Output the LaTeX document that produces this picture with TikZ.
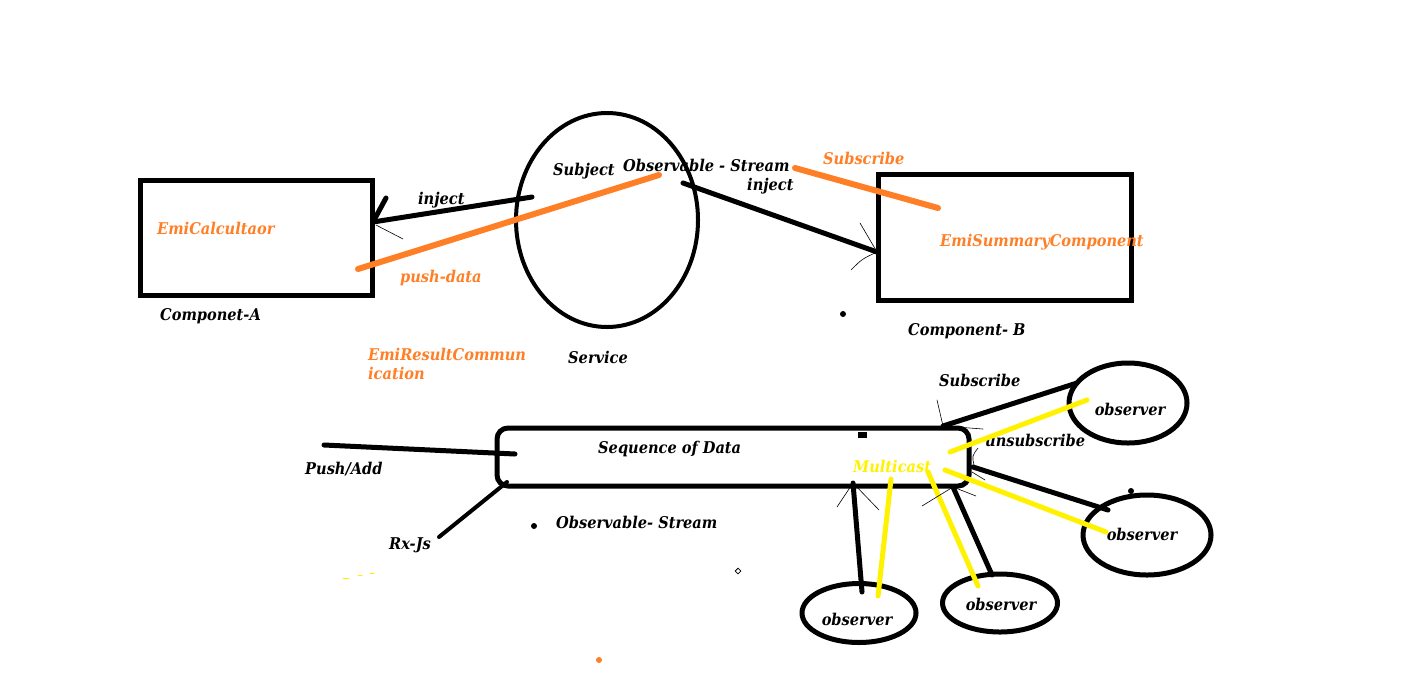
\documentclass[tikz,border=0pt]{standalone}
\usepackage{fontspec}
\setmainfont{DejaVu Serif Condensed}
\usetikzlibrary{shapes.geometric}
\definecolor{paintorange}{RGB}{255,127,39}
\definecolor{paintyellow}{RGB}{255,242,0}
\begin{document}
\begin{tikzpicture}
  [x=1pt,y=-1pt,line cap=round,
   every node/.style={font=\fontsize{16.2}{19}\selectfont\bfseries\itshape,inner sep=0pt},
   lbl/.style={anchor=west},
   box/.style={draw,line width=5pt,line cap=butt,rectangle},
   oval/.style={draw,line width=4pt,ellipse},
   heavy/.style={line width=5pt},
   barb/.style={line width=0.6pt},
   dab/.style={fill,circle,minimum size=6pt}]
  \useasboundingbox (0,0) rectangle (1404,694);
  % components and service
  \node (compA)[box,minimum width=232pt,minimum height=115pt] at (256,237.5) {};
  \node (compB)[box,minimum width=253pt,minimum height=126pt] at (1004.5,237) {};
  \node (service)[oval,minimum width=182pt,minimum height=214pt] at (607,220) {};
  \node (emiCalc)[lbl,paintorange] at (157,228) {EmiCalcultaor};
  \node (nameA)[lbl] at (160,316) {Componet-A};
  \node (emiSum)[lbl,paintorange] at (940,242) {EmiSummaryComponent};
  \node (nameB)[lbl] at (908,331) {Component- B};
  \node (subject)[lbl] at (553,171) {Subject};
  \node (obsStream)[lbl] at (623,165) {Observable - Stream};
  \node (serviceTxt)[lbl] at (568,357) {Service};
  \node (injectA)[lbl] at (418,200) {inject};
  \node (injectB)[lbl] at (747,186) {inject};
  \node (pushData)[lbl,paintorange] at (400,278) {push-data};
  \node (resultComm)[lbl,paintorange,align=left] at (368,364) {EmiResultCommun\\ication};
  \node (subscribeB)[lbl,paintorange] at (823,158) {Subscribe};
  % stream and observers
  \node (stream)[draw,line width=5pt,rectangle,rounded corners=11pt,minimum width=472pt,minimum height=58pt] at (733,457) {};
  \node (sequence)[lbl] at (598,449) {Sequence of Data};
  \node (multicast)[lbl,paintyellow] at (853,466) {Multicast};
  \node (pushAdd)[lbl] at (305,469) {Push/Add};
  \node (rxjs)[lbl] at (389,545) {Rx-Js};
  \node (obsStream2)[lbl] at (556,522) {Observable- Stream};
  \node (subscribe)[lbl] at (939,380) {Subscribe};
  \node (unsubscribe)[lbl] at (985,440) {unsubscribe};
  \node (o1)[oval,line width=5pt,minimum width=118pt,minimum height=80pt] at (1128,403) {};
  \node (o2)[oval,line width=5pt,minimum width=128pt,minimum height=80pt] at (1147,535) {};
  \node (o3)[oval,line width=5pt,minimum width=115pt,minimum height=58pt] at (1000,603) {};
  \node (o4)[oval,line width=5pt,minimum width=114pt,minimum height=59pt] at (859,613) {};
  \node (o1txt) at (1130,409) {observer};
  \node (o2txt) at (1142,534) {observer};
  \node (o3txt) at (1001,604) {observer};
  \node (o4txt) at (857,619) {observer};
  % connector ends
  \coordinate (a1) at (532,197);  \coordinate (a2) at (373,222);
  \coordinate (b1) at (683,183);  \coordinate (b2) at (877,252);
  \coordinate (p1) at (358,269);  \coordinate (p2) at (659,175);
  \coordinate (s1) at (795,168);  \coordinate (s2) at (938,208);
  \coordinate (q1) at (324,445);  \coordinate (q2) at (515,454);
  \coordinate (r1) at (507,482);  \coordinate (r2) at (439,537);
  \coordinate (k1) at (943,426);  \coordinate (k2) at (1077,383);
  \coordinate (k3) at (973,467);  \coordinate (k4) at (1108,510);
  \coordinate (k5) at (953,487);  \coordinate (k6) at (992,575);
  \coordinate (k7) at (853,483);  \coordinate (k8) at (862,592);
  \coordinate (y1) at (950,452);  \coordinate (y2) at (1087,400);
  \coordinate (y3) at (945,470);  \coordinate (y4) at (1106,532);
  \coordinate (y5) at (928,472);  \coordinate (y6) at (978,586);
  \coordinate (y7) at (891,479);  \coordinate (y8) at (878,596);
  % lines
  \foreach \from/\to in {a1/a2,b1/b2,q1/q2,k1/k2,k3/k4,k5/k6,k7/k8}
    \draw[heavy] (\from) -- (\to);
  \draw[line width=4pt] (r1) -- (r2);
  \foreach \from/\to in {p1/p2,s1/s2}
    \draw[heavy,paintorange,line width=6pt] (\from) -- (\to);
  \foreach \from/\to in {y1/y2,y3/y4,y5/y6,y7/y8}
    \draw[heavy,paintyellow] (\from) -- (\to);
  % arrow barbs
  \draw[heavy] (a2) -- ++(13,-24);
  \draw[barb] (a2) ++(3,3) -- (403,239);
  \draw[barb] (b2) -- (860,223);
  \draw[barb] (b2) .. controls (862,259) .. (851,270);
  \draw[barb] (937,400) -- (k1) -- (983,429);
  \draw[barb] (978,448) .. controls (972,456) .. (974,465);
  \draw[barb] (972,472) -- (985,480);
  \draw[barb] (837,507) -- (k7) -- (879,510);
  \draw[barb] (922,506) -- (k5) -- (976,496);
  % specks
  \node (dot1)[dab] at (843,314) {};
  \node (dot2)[dab] at (534,526) {};
  \node (dot3)[dab] at (1131,491) {};
  \node (dot4)[dab,paintorange] at (599,660) {};
  \node (sq)[fill,rectangle,minimum width=9pt,minimum height=6pt] at (862,435) {};
  \node (dia)[draw,diamond,line width=0.8pt,minimum size=6pt] at (738,571) {};
  \draw[paintyellow,line width=1pt] (343,578) -- (349,578) (358,575) -- (362,575) (370,573) -- (374,573);
\end{tikzpicture}
\end{document}
